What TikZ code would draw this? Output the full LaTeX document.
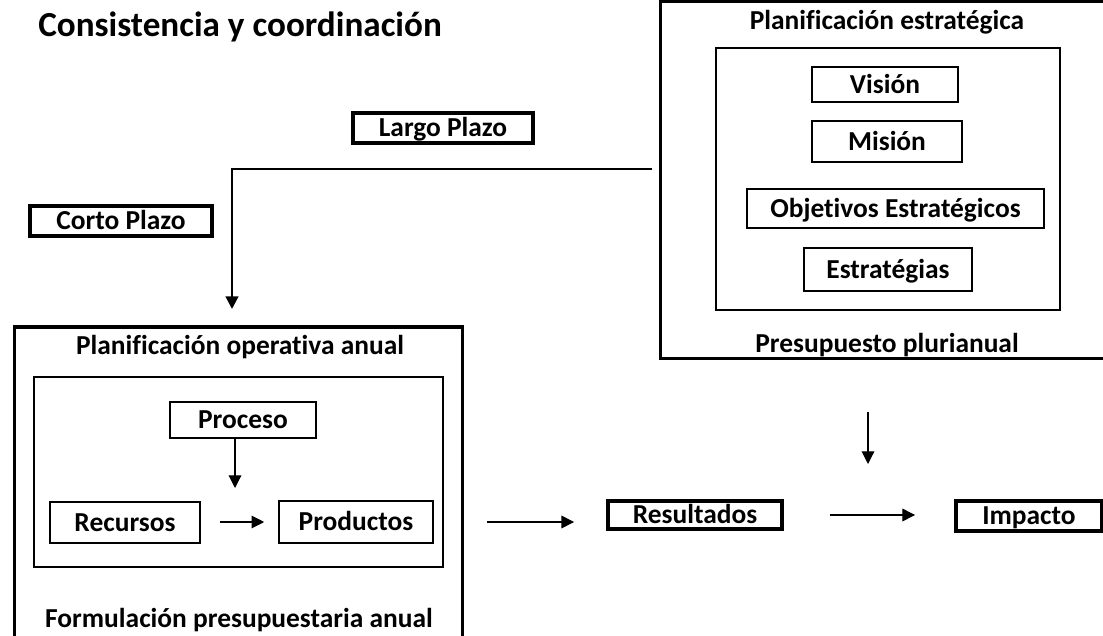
\documentclass[tikz,border=0pt]{standalone}
\usepackage{fontspec}
\setmainfont{Carlito}[Ligatures=NoCommon]
\usetikzlibrary{arrows.meta}
\usetikzlibrary{positioning}

\begin{document}
\begin{tikzpicture}[x=0.025cm,y=-0.025cm,
  txt/.style={font=\fontsize{19.5}{23}\selectfont\bfseries},
  boxtxt/.style={txt,text height=16pt,text depth=3.5pt},
  bigline/.style={line width=2.6pt},
  frame/.style={inner sep=0pt},
  midbox/.style={draw,line width=1.6pt,inner sep=0pt},
  smallbox/.style={draw,line width=1pt,inner sep=0pt,boxtxt},
  tagbox/.style={draw,line width=2.2pt,inner sep=0pt,boxtxt},
  lightarrow/.style={line width=0.8pt,-{Triangle[width=9pt,length=9pt]}},
  heavyarrow/.style={line width=1.6pt,-{Triangle[width=9pt,length=9pt]}}]
\useasboundingbox (0,0) rectangle (1103,636);
\clip (0,0) rectangle (1103,636);

\node[font=\fontsize{25}{30}\selectfont\bfseries] (title) at (240,27) {Consistencia y coordinación};

% planificacion estrategica (runs off the right edge)
\node[frame,minimum width=11.35cm,minimum height=8.9cm] (pe) at (888,180) {};
\draw[bigline] (pe.north east) -- (pe.north west) -- (pe.south west) -- (pe.south east);
\node[txt] (pehead) at (887,22) {Planificación estratégica};
\node[midbox,minimum width=8.6cm,minimum height=6.55cm] (pein) at (888,179) {};
\node[smallbox,minimum width=3.65cm,minimum height=0.875cm] (vision) at (885,84.5) {Visión};
\node[smallbox,minimum width=3.75cm,minimum height=1.025cm] (mision) at (887,141.5) {Misión};
\node[smallbox,minimum width=7.425cm,minimum height=0.975cm] (objetivos) at (895.5,208.5) {Objetivos Estratégicos};
\node[smallbox,minimum width=4.2cm,minimum height=1.075cm] (estrategias) at (888,269.5) {Estratégias};
\node[txt] (pefoot) at (887,345) {Presupuesto plurianual};

% plazos
\node[tagbox,minimum width=4.5cm,minimum height=0.75cm] (largo) at (443,128) {Largo Plazo};
\node[tagbox,minimum width=4.55cm,minimum height=0.75cm] (corto) at (121,221) {Corto Plazo};
\coordinate (lstart) at (652,169);
\coordinate (lend) at (232,309);
\draw[heavyarrow] (lstart) -| (lend);

% planificacion operativa (runs off the bottom edge)
\node[frame,minimum width=11.175cm,minimum height=7.95cm] (po) at (238.5,486) {};
\draw[bigline] (po.south west) -- (po.north west) -- (po.north east) -- (po.south east);
\node[txt] (pohead) at (240,347) {Planificación operativa anual};
\node[midbox,minimum width=10.225cm,minimum height=4.75cm] (poin) at (238.5,472) {};
\node[smallbox,minimum width=3.65cm,minimum height=0.9cm] (proceso) at (243,420) {Proceso};
\node[smallbox,minimum width=3.75cm,minimum height=1.025cm] (recursos) at (125,522.5) {Recursos};
\node[smallbox,minimum width=3.85cm,minimum height=1.05cm] (productos) at (356,522) {Productos};
\node[txt] (pofoot) at (239,620) {Formulación presupuestaria anual};
\coordinate (pdown) at (235,488);
\draw[lightarrow] (proceso.south -| pdown) -- (pdown);
\draw[lightarrow,shorten <=14pt,shorten >=10pt] (recursos.east |- productos.west) -- (productos.west);

% resultados e impacto
\node[tagbox,minimum width=4.35cm,minimum height=0.7cm] (resultados) at (695,515) {Resultados};
\node[tagbox,minimum width=3.65cm,minimum height=0.75cm] (impacto) at (1029,516) {Impacto};
\draw[lightarrow,shorten <=38pt,shorten >=23pt] (productos.east) -- (productos.east -| resultados.west);
\draw[lightarrow,shorten <=33pt,shorten >=28pt] (resultados.east) -- (resultados.east -| impacto.west);
\coordinate (ptop) at (868,412);
\coordinate (pbot) at (868,464);
\draw[lightarrow] (ptop) -- (pbot);

\end{tikzpicture}
\end{document}
